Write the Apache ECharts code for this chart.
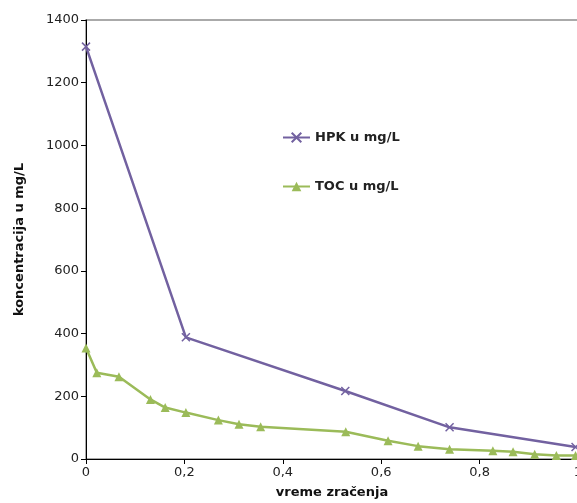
<!DOCTYPE html>
<html>
<head>
<meta charset="utf-8">
<script src="https://cdn.jsdelivr.net/npm/echarts@6/dist/echarts.min.js"></script>
<style>
  html, body { margin: 0; padding: 0; background: #fff; overflow: hidden; }
  #chart { width: 577px; height: 503px; }
</style>
</head>
<body>
<div id="chart"></div>
<script>
// Irradiation time (x) and measured concentrations in mg/L (y)
const hpkTime   = [0, 0.203, 0.527, 0.739, 0.995];
const hpkValues = [1315, 388, 217, 101, 38];

const tocTime   = [0, 0.022, 0.067, 0.131, 0.161, 0.203, 0.269, 0.311, 0.355, 0.528,
                   0.614, 0.675, 0.739, 0.827, 0.868, 0.912, 0.956, 0.995];
const tocValues = [354, 275, 262, 190, 164, 148, 124, 111, 103, 87,
                   58, 41, 31, 26, 23, 15, 11, 11];

const seriesNames = ['HPK u mg/L', 'TOC u mg/L'];
const xAxisTitle = 'vreme zračenja';
const yAxisTitle = 'koncentracija u mg/L';

const pair = (xs, ys) => xs.map((x, i) => [x, ys[i]]);

const purple = '#7261a0';
const green = '#9bbb59';
const font = 'DejaVu Sans';
const crossPath = 'path://M0,0L10,10M10,0L0,10';

const chart = echarts.init(document.getElementById('chart'), null, { renderer: 'canvas' });
chart.setOption({
  animation: false,
  backgroundColor: '#ffffff',
  grid: {
    left: 86, top: 20, width: 492, height: 439,
    outerBoundsMode: 'none', containLabel: false,
    show: true, borderColor: '#8f8f8f', borderWidth: 1.5, backgroundColor: 'transparent'
  },
  legend: {
    orient: 'vertical',
    left: 282, top: 131, padding: 0,
    itemWidth: 27, itemHeight: 12, itemGap: 36,
    textStyle: { fontFamily: font, fontWeight: 'bold', fontSize: 13, color: '#222' },
    data: seriesNames
  },
  xAxis: {
    type: 'value', min: 0, max: 1, interval: 0.2,
    name: xAxisTitle, nameLocation: 'middle', nameGap: 27,
    nameTextStyle: { fontFamily: font, fontWeight: 'bold', fontSize: 13, color: '#111' },
    axisLine: { show: true, lineStyle: { color: '#000', width: 1 } },
    axisTick: { show: true, inside: false, length: 5, lineStyle: { color: '#000' } },
    axisLabel: {
      margin: 7, fontFamily: font, fontSize: 13, color: '#222',
      showMaxLabel: true,
      formatter: v => String(Math.round(v * 10) / 10).replace('.', ',')
    },
    splitLine: { show: false }
  },
  yAxis: {
    type: 'value', min: 0, max: 1400, interval: 200,
    name: yAxisTitle, nameLocation: 'middle', nameGap: 60, nameRotate: 90,
    nameTextStyle: { fontFamily: font, fontWeight: 'bold', fontSize: 13, color: '#111' },
    axisLine: { show: true, lineStyle: { color: '#000', width: 1 } },
    axisTick: { show: true, inside: false, length: 5, lineStyle: { color: '#000' } },
    axisLabel: { margin: 7, fontFamily: font, fontSize: 13, color: '#222', formatter: v => String(v) },
    splitLine: { show: false }
  },
  series: [
    {
      name: seriesNames[0], type: 'line',
      data: pair(hpkTime, hpkValues),
      lineStyle: { color: purple, width: 2.5 },
      symbol: crossPath, symbolSize: 8,
      itemStyle: { color: purple, borderColor: purple, borderWidth: 1.5 },
      z: 3
    },
    {
      name: seriesNames[1], type: 'line',
      data: pair(tocTime, tocValues),
      lineStyle: { color: green, width: 2.5 },
      symbol: 'triangle', symbolSize: 9,
      itemStyle: { color: green },
      z: 2
    }
  ]
});
</script>
</body>
</html>
